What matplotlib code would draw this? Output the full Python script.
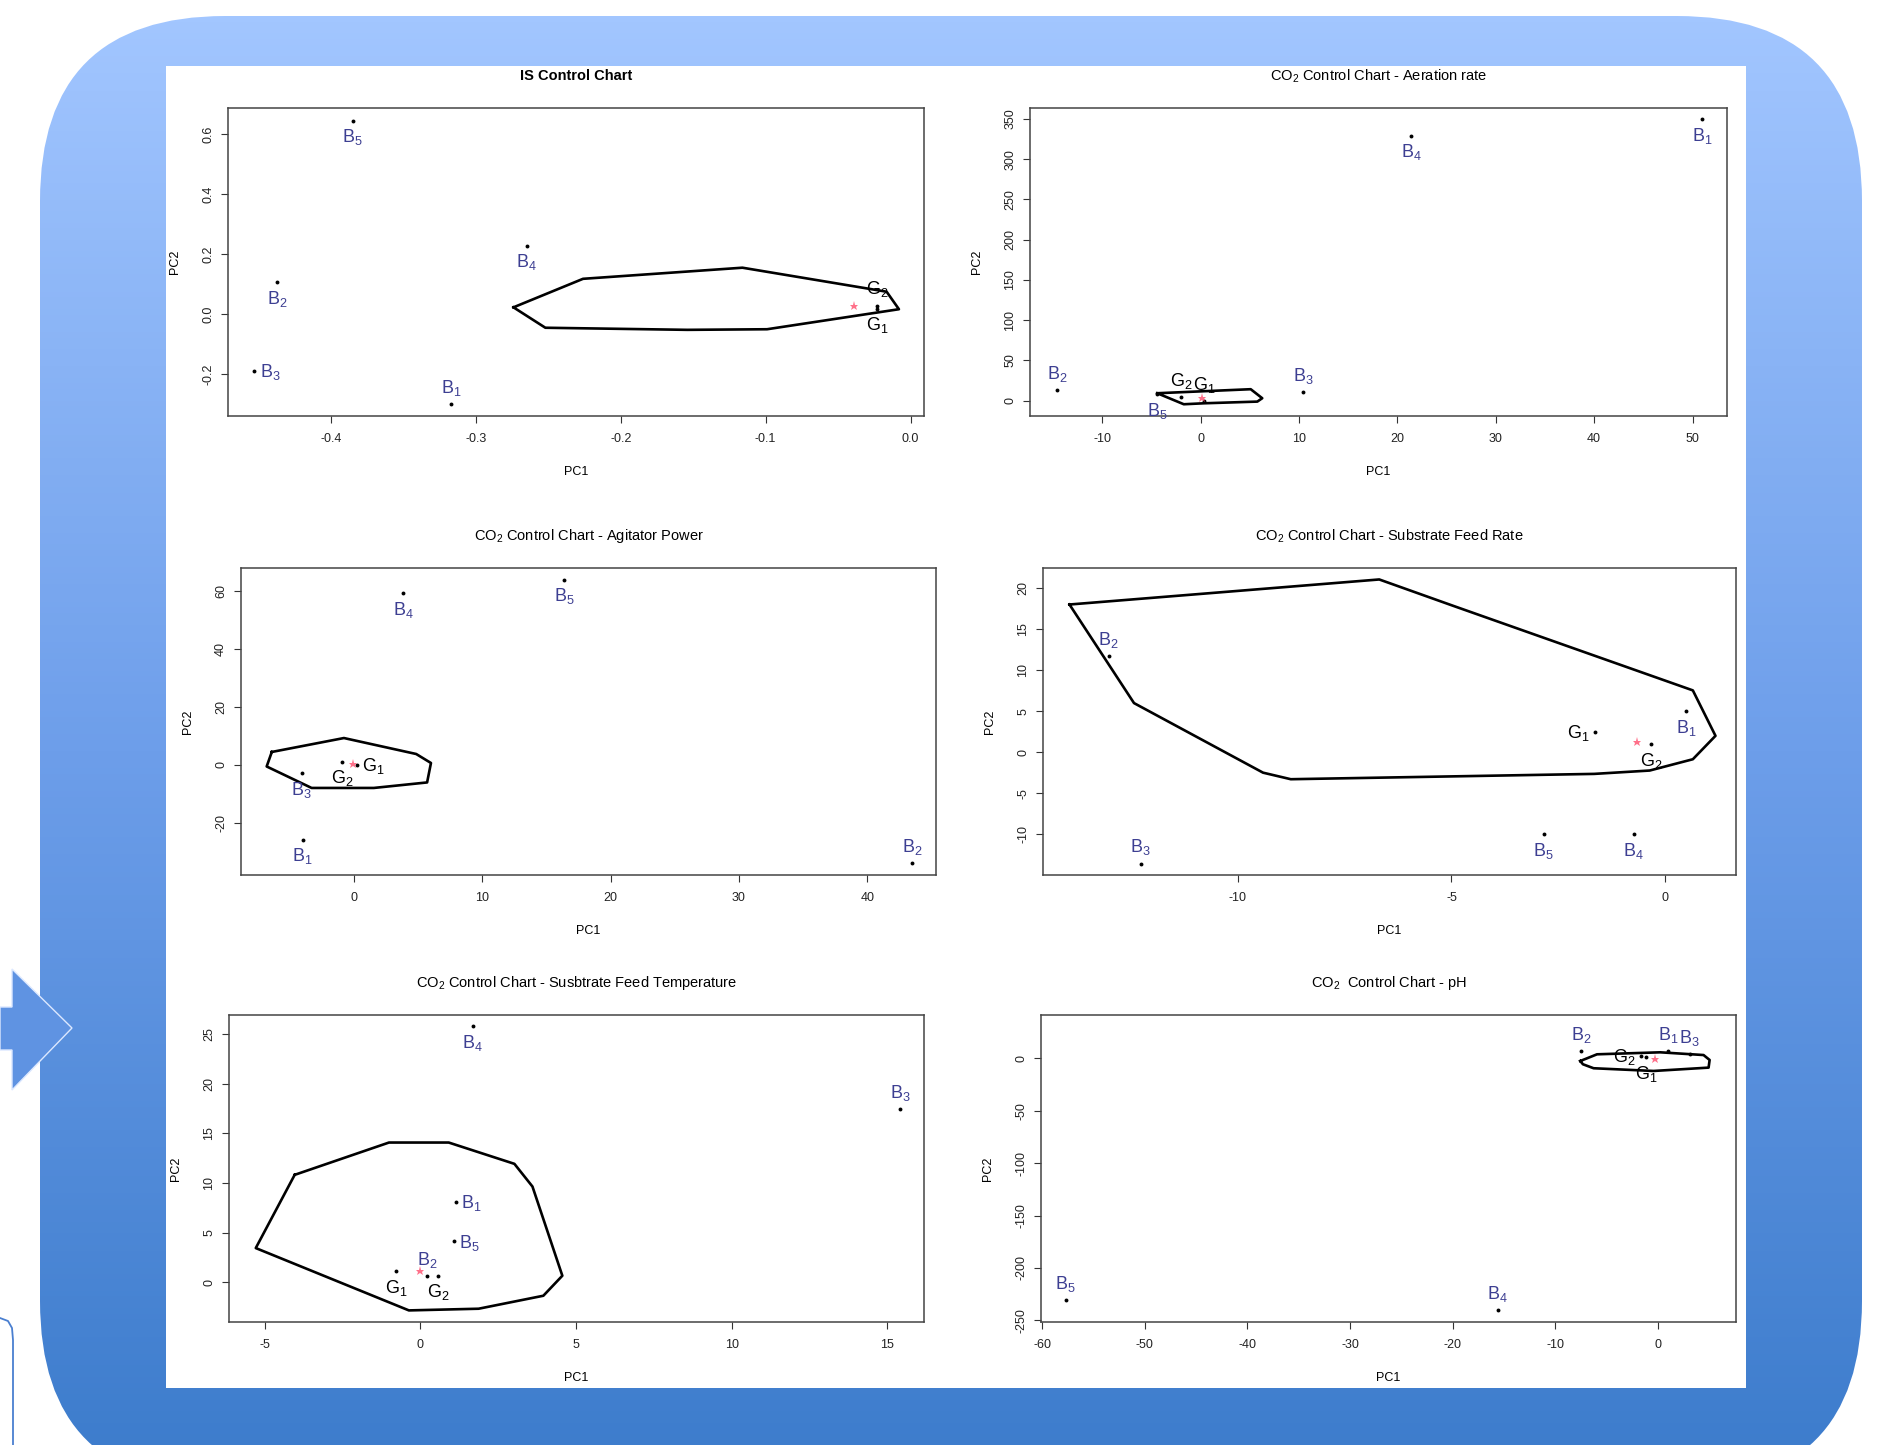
import matplotlib
matplotlib.use("Agg")
import matplotlib.pyplot as plt
import numpy as np
from matplotlib.patches import FancyBboxPatch, Rectangle, Polygon
from matplotlib.colors import LinearSegmentedColormap
from matplotlib.lines import Line2D

plt.rcParams['font.family'] = ['Liberation Sans Narrow', 'Liberation Sans', 'DejaVu Sans']
plt.rcParams['mathtext.default'] = 'regular'

# point order in every chart: B1, B2, B3, B4, B5, G1, G2
point_labels = ['B$_1$', 'B$_2$', 'B$_3$', 'B$_4$', 'B$_5$', 'G$_1$', 'G$_2$']

# IS control chart
is_x = [-0.317, -0.437, -0.453, -0.265, -0.385, -0.023, -0.023]
is_y = [-0.301, 0.106, -0.190, 0.227, 0.643, 0.018, 0.028]
is_hull_x = [-0.274, -0.226, -0.116, -0.0165, -0.008, -0.099, -0.154, -0.252]
is_hull_y = [0.022, 0.117, 0.154, 0.074, 0.0157, -0.051, -0.053, -0.046]
is_center = (-0.039, 0.028)
is_xticks = [-0.4, -0.3, -0.2, -0.1, 0.0]
is_yticks = [-0.2, 0.0, 0.2, 0.4, 0.6]

# CO2 - aeration rate
aer_x = [51.0, -14.6, 10.4, 21.4, -4.4, 0.4, -2.0]
aer_y = [350, 13.3, 11.2, 329, 8.0, -0.4, 4.2]
aer_hull_x = [-4.4, 5.1, 6.27, 5.77, 0.34, -1.7]
aer_hull_y = [9.2, 14.2, 3.0, -1.2, -3.3, -4.5]
aer_center = (0.1, 3.0)
aer_xticks = [-10, 0, 10, 20, 30, 40, 50]
aer_yticks = [0, 50, 100, 150, 200, 250, 300, 350]

# CO2 - agitator power
agi_x = [-4.0, 43.5, -4.07, 3.84, 16.4, 0.2, -0.91]
agi_y = [-25.9, -33.9, -2.9, 59.1, 63.8, 0.0, 1.1]
agi_hull_x = [-6.4, -0.78, 4.85, 6.0, 5.7, 1.55, -3.3, -6.8]
agi_hull_y = [4.4, 9.2, 3.7, 0.6, -6.1, -8.0, -8.0, -0.6]
agi_center = (-0.05, 0.3)
agi_xticks = [0, 10, 20, 30, 40]
agi_yticks = [-20, 0, 20, 40, 60]

# CO2 - substrate feed rate
sfr_x = [0.5, -13.02, -12.27, -0.73, -2.84, -1.63, -0.33]
sfr_y = [5.0, 11.7, -13.6, -10.0, -10.0, 2.45, 1.0]
sfr_hull_x = [-13.94, -6.69, -4.97, 0.65, 1.18, 0.65, -0.36, -1.66, -8.76, -9.41, -12.43]
sfr_hull_y = [18.04, 21.1, 17.9, 7.55, 2.0, -0.86, -2.24, -2.65, -3.3, -2.5, 6.0]
sfr_center = (-0.65, 1.2)
sfr_xticks = [-10, -5, 0]
sfr_yticks = [-10, -5, 0, 5, 10, 15, 20]

# CO2 - substrate feed temperature
sft_x = [1.14, 0.21, 15.41, 1.68, 1.07, -0.78, 0.58]
sft_y = [8.1, 0.63, 17.5, 25.8, 4.1, 1.07, 0.63]
sft_hull_x = [-4.04, -1.01, 0.91, 3.02, 3.6, 4.56, 3.95, 1.87, -0.37, -5.29]
sft_hull_y = [10.82, 14.08, 14.08, 11.93, 9.64, 0.64, -1.38, -2.69, -2.86, 3.43]
sft_center = (0.0, 1.07)
sft_xticks = [-5, 0, 5, 10, 15]
sft_yticks = [0, 5, 10, 15, 20, 25]

# CO2 - pH
ph_x = [0.97, -7.5, 3.1, -15.6, -57.7, -1.14, -1.62]
ph_y = [7.0, 7.2, 3.8, -240.5, -230.3, 1.2, 2.5]
ph_hull_x = [-7.57, -5.94, 0.22, 4.44, 5.03, 4.93, -0.43, -6.27, -7.31]
ph_hull_y = [-2.6, 3.8, 5.7, 3.1, -1.6, -8.9, -12.1, -9.5, -5.7]
ph_center = (-0.26, -0.7)
ph_xticks = [-60, -50, -40, -30, -20, -10, 0]
ph_yticks = [-250, -200, -150, -100, -50, 0]

W, H = 1892, 1445
fig = plt.figure(figsize=(W / 100, H / 100), dpi=100)

# background: rounded gradient card, white panel, arrow
bg = fig.add_axes([0, 0, 1, 1], zorder=-10)
bg.set_axis_off()
cmap = LinearSegmentedColormap.from_list('card', ['#a2c6ff', '#6d9eea', '#3b7bcb'])
grad = np.linspace(0, 1, 256).reshape(-1, 1)
card = FancyBboxPatch((40, 16), 1822, 1470, boxstyle='round,pad=0,rounding_size=185',
                      transform=bg.transData, fc='none', ec='none')
bg.add_patch(card)
im = bg.imshow(grad, extent=(40, 1862, 1486, 16), aspect='auto', cmap=cmap)
im.set_clip_path(card)
bg.add_patch(Rectangle((166, 66), 1580, 1322, fc='white', ec='none', zorder=3))
bg.add_patch(Polygon([(0, 1007), (12, 1007), (12, 969), (72, 1028), (12, 1090), (12, 1050), (0, 1050)],
                     closed=True, fc='#5f93e2', ec='#dce8ff', lw=1, zorder=3))
bg.add_line(Line2D([0, 8, 12, 13, 13], [1318, 1321, 1328, 1340, 1445], color='#4a7fd0', lw=1.3))
bg.set_xlim(0, W)
bg.set_ylim(H, 0)

place_style = {
    'a': dict(off=(0, 8), ha='center'),
    'b': dict(off=(0, -15.5), ha='center'),
    'r': dict(off=(4, -4.5), ha='left'),
    'l': dict(off=(-4, -4.5), ha='right'),
}


def px_rect(l, r, t, b):
    return [l / W, 1 - b / H, (r - l) / W, (b - t) / H]


def chart(rect, title, bold, xs, ys, places, hx, hy, center, xlim, ylim, xticks, yticks, fmt):
    ax = fig.add_axes(px_rect(*rect))
    ax.plot(list(hx) + [hx[0]], list(hy) + [hy[0]], color='black', lw=1.9, solid_joinstyle='round')
    ax.plot(xs, ys, 'o', color='black', ms=2.8, mew=0)
    ax.plot([center[0]], [center[1]], '*', color='#ff4d6d', ms=6.5, mew=0, alpha=0.8)
    for i, (x, y) in enumerate(zip(xs, ys)):
        st = place_style[places[i]]
        col = '#3d3f92' if i < 5 else 'black'
        ax.annotate(point_labels[i], (x, y), xytext=st['off'], textcoords='offset points',
                    ha=st['ha'], va='baseline', fontsize=13, color=col)
    ax.set_xlim(*xlim)
    ax.set_ylim(*ylim)
    ax.set_xticks(xticks)
    ax.set_xticklabels([fmt % v for v in xticks])
    ax.set_yticks(yticks)
    ax.set_yticklabels([fmt % v for v in yticks], rotation=90, va='center')
    ax.tick_params(direction='out', length=5, width=0.8, color='#333333', labelsize=9,
                   labelcolor='#222222')
    ax.tick_params(axis='x', pad=7)
    ax.tick_params(axis='y', pad=5)
    for s in ax.spines.values():
        s.set_color('#444444')
        s.set_linewidth(1.1)
    h = rect[3] - rect[2]
    w = rect[1] - rect[0]
    ax.text(0.5, 1 + 32 / h, title, transform=ax.transAxes, ha='center', va='center',
            fontsize=10.5, fontweight='bold' if bold else 'normal')
    ax.text(0.5, -56 / h, 'PC1', transform=ax.transAxes, ha='center', va='center', fontsize=9)
    ax.text(-53 / w, 0.5, 'PC2', transform=ax.transAxes, ha='center', va='center',
            rotation=90, fontsize=9)
    return ax


chart((228, 924, 108, 416), 'IS Control Chart', True, is_x, is_y,
      ['a', 'b', 'r', 'b', 'b', 'b', 'a'], is_hull_x, is_hull_y, is_center,
      (-0.471, 0.0093), (-0.34, 0.686), is_xticks, is_yticks, '%.1f')
chart((1030, 1727, 108, 416), 'CO$_2$ Control Chart - Aeration rate', False, aer_x, aer_y,
      ['b', 'a', 'a', 'b', 'b', 'a', 'a'], aer_hull_x, aer_hull_y, aer_center,
      (-17.33, 53.5), (-19.1, 363.7), aer_xticks, aer_yticks, '%d')
chart((241, 936, 568, 875), 'CO$_2$ Control Chart - Agitator Power', False, agi_x, agi_y,
      ['b', 'a', 'b', 'b', 'b', 'r', 'b'], agi_hull_x, agi_hull_y, agi_center,
      (-8.8, 45.35), (-38.0, 67.8), agi_xticks, agi_yticks, '%d')
chart((1043, 1736, 568, 875), 'CO$_2$ Control Chart - Substrate Feed Rate', False, sfr_x, sfr_y,
      ['b', 'a', 'a', 'b', 'b', 'l', 'b'], sfr_hull_x, sfr_hull_y, sfr_center,
      (-14.56, 1.66), (-15.0, 22.5), sfr_xticks, sfr_yticks, '%d')
chart((229, 924, 1015, 1322), 'CO$_2$ Control Chart - Susbtrate Feed Temperature', False, sft_x, sft_y,
      ['r', 'a', 'a', 'b', 'r', 'b', 'b'], sft_hull_x, sft_hull_y, sft_center,
      (-6.15, 16.18), (-4.03, 26.95), sft_xticks, sft_yticks, '%d')
chart((1041, 1736, 1015, 1322), 'CO$_2$  Control Chart - pH', False, ph_x, ph_y,
      ['a', 'a', 'a', 'a', 'a', 'b', 'l'], ph_hull_x, ph_hull_y, ph_center,
      (-60.1, 7.6), (-251.6, 41.3), ph_xticks, ph_yticks, '%d')

fig.savefig('out.png', dpi=100)
